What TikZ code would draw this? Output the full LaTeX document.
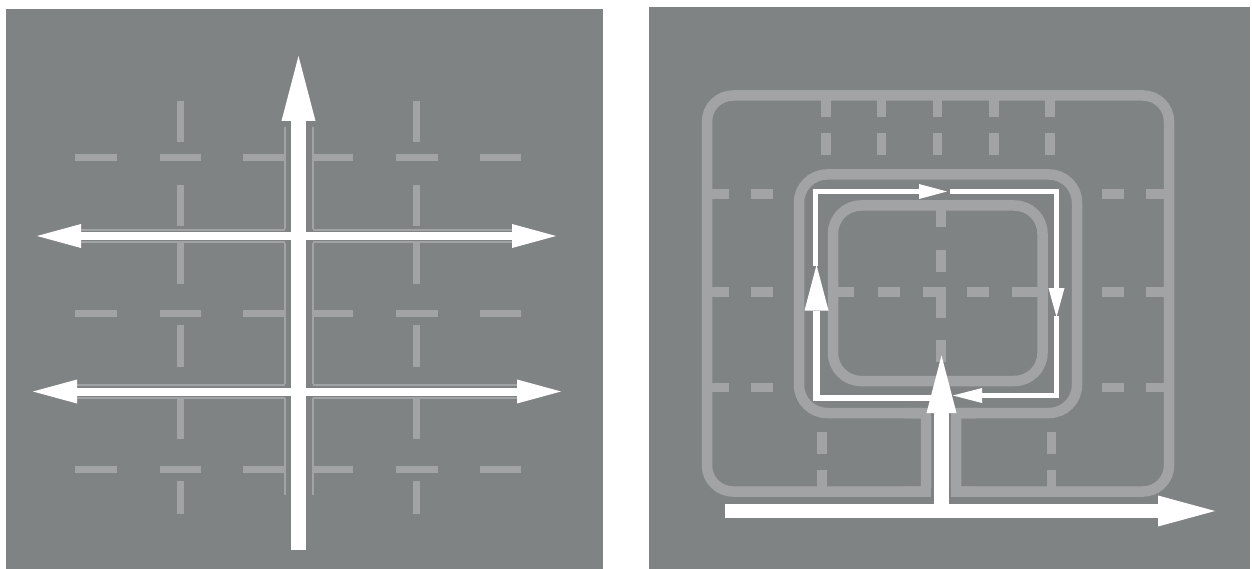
\documentclass[tikz,border=0pt]{standalone}
\usepackage{tikz}
\definecolor{panelgray}{RGB}{128,131,132}
\definecolor{seggray}{RGB}{161,163,164}
\tikzset{
  bg/.style={fill=panelgray},
  seg7/.style={draw=seggray,line width=7,line cap=butt},
  seg9/.style={draw=seggray,line width=9.5,line cap=butt},
  edgeline/.style={draw=seggray,line width=2,line cap=butt},
  road/.style={draw=seggray,line width=10.5},
  wfill/.style={fill=white},
  wline/.style={draw=white,line cap=butt,miter limit=10},
}
\begin{document}
\begin{tikzpicture}[x=1pt,y=-1pt]
\useasboundingbox (0,0) rectangle (1252,569);
\fill[white] (0,0) rectangle (1252,569);
% ---------------- left panel ----------------
\fill[bg] (6,9) rectangle (603,569);
\foreach \y in {158,313,469}
  \foreach \a/\b in {75/117,160/201,243/284,313/353,396/438,480/521}
    \draw[seg7] (\a,\y) -- (\b,\y);
\foreach \x in {180,416}
  \foreach \a/\b in {101/142,185/226,242/284,325/367,397/439,481/514}
    \draw[seg7] (\x,\a) -- (\x,\b);
% road edges along the white arrows
\foreach \x in {284.5,312.5}
  \foreach \a/\b in {127.5/229,243/384,398/494.6}
    \draw[edgeline] (\x,\a) -- (\x,\b);
\foreach \y in {230,242}
  \foreach \a/\b in {81/284.5,312.5/512}
    \draw[edgeline] (\a,\y) -- (\b,\y);
\foreach \y in {385,398}
  \foreach \a/\b in {77/284.5,312.5/517}
    \draw[edgeline] (\a,\y) -- (\b,\y);
% white arrows
\fill[wfill] (291,120) rectangle (306,550);
\fill[wfill] (281.5,121) -- (298.5,56) -- (315.5,121) -- cycle;
\fill[wfill] (80,232) rectangle (513,240);
\fill[wfill] (81,224) -- (37,236) -- (81,248) -- cycle;
\fill[wfill] (512,224) -- (556,236) -- (512,248) -- cycle;
\fill[wfill] (76,387.5) rectangle (518,395.5);
\fill[wfill] (77,379.5) -- (33,391.5) -- (77,403.5) -- cycle;
\fill[wfill] (517,379.5) -- (561,391.5) -- (517,403.5) -- cycle;
% ---------------- right panel ----------------
\fill[bg] (649,7) rectangle (1250,569);
\draw[road,rounded corners=26] (707,95.5) rectangle (1169,491.5);
\draw[road,rounded corners=28] (799,174.5) rectangle (1077,413);
\draw[road,rounded corners=28] (833,205.5) rectangle (1042.5,381);
\fill[bg] (931.25,403) rectangle (950.75,500);
\draw[road,rounded corners=5] (905,413) -- (926,413) -- (926,491.5) -- (905,491.5);
\draw[road,rounded corners=5] (977,413) -- (956,413) -- (956,491.5) -- (977,491.5);
% dashes
\foreach \x in {826,881.5,937.5,994,1050} {
  \draw[seg9] (\x,96) -- (\x,117);
  \draw[seg9] (\x,133.5) -- (\x,155);
}
\foreach \y in {194,292,387.5} {
  \draw[seg9] (707,\y) -- (729,\y);
  \draw[seg9] (751,\y) -- (773,\y);
  \draw[seg9] (1101.5,\y) -- (1123.5,\y);
  \draw[seg9] (1146,\y) -- (1169,\y);
}
\draw[seg9] (833,292) -- (854,292);
\draw[seg9] (877.5,292) -- (900,292);
\draw[seg9] (922.5,292) -- (945.75,292);
\draw[seg9] (967,292) -- (989,292);
\draw[seg9] (1011.7,292) -- (1042.5,292);
\draw[seg9] (941,205.5) -- (941,227.5);
\draw[seg9] (941,250) -- (941,272);
\draw[seg9] (941,287.25) -- (941,317.5);
\draw[seg9] (941,340) -- (941,362);
\foreach \x in {822,1051.5} {
  \draw[seg9] (\x,432) -- (\x,453.5);
  \draw[seg9] (\x,470) -- (\x,491.5);
}
% big white arrows
\fill[wfill] (725,504) rectangle (1158.5,518);
\fill[wfill] (1158,495.5) -- (1215,511) -- (1158,526.5) -- cycle;
\fill[wfill] (934,412) rectangle (949,518);
\fill[wfill] (926.5,413) -- (941.5,355.5) -- (956.5,413) -- cycle;
% loop
\draw[wline,line width=6.5] (936,398) -- (816.5,398) -- (816.5,310.5);
\fill[wfill] (804.5,310.5) -- (816.5,265) -- (828.5,310.5) -- cycle;
\draw[wline,line width=5] (815.5,266) -- (815.5,191.5) -- (919.5,191.5);
\fill[wfill] (919,184) -- (947,191.5) -- (919,199) -- cycle;
\draw[wline,line width=5] (950,191.5) -- (1056.5,191.5) -- (1056.5,288.5);
\fill[wfill] (1048.5,288) -- (1056.5,317) -- (1064.5,288) -- cycle;
\draw[wline,line width=5] (1056.5,316) -- (1056.5,395.5) -- (981.5,395.5);
\fill[wfill] (982,388) -- (953,395.5) -- (982,403) -- cycle;
\end{tikzpicture}
\end{document}
